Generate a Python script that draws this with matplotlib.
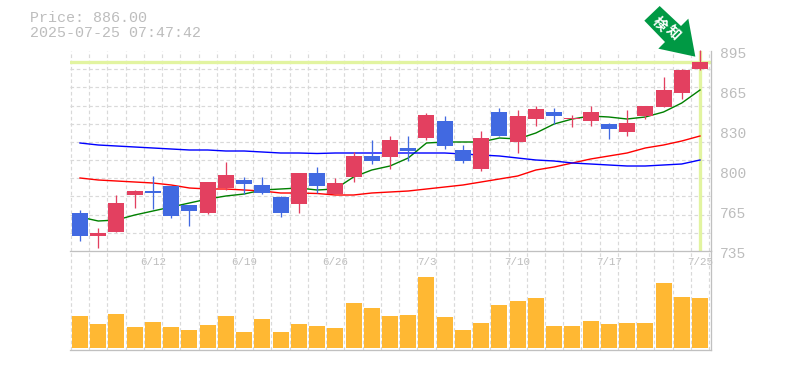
import numpy as np
import matplotlib
matplotlib.use("Agg")
import matplotlib.pyplot as plt
from matplotlib.patches import Polygon
from matplotlib.transforms import ScaledTranslation

W, H = 785, 370

opens = [765.4,747,750.2,779.8,783,787,771.8,765.4,785.4,791.8,787.8,778.2,772.6,797.4,780.6,794.2,811,810.2,817.4,825.4,839,815.8,800.6,846.2,822.2,840.6,846.2,840.6,839,836.6,830.2,843,850.2,861.4,880.6]
highs = [767.8,753.4,779.8,783.8,795,787,771.8,790.2,806.2,794.2,794.2,779,797.4,802.2,793.4,814.2,823.8,827,827,845.4,843,819.8,831,849.4,847.8,851,849.4,843.8,851,837.4,847.8,851,874.2,880.6,895.8]
lows = [743,737.4,750.2,769.4,768.6,761.4,755,764.6,783.8,780.6,780.6,762.2,765.4,781.4,780.6,790.2,804.6,800.6,807,823.8,816.6,805.4,799,827,813.4,835,836.6,834.2,835,824.6,827,840.6,850.2,856.6,879.8]
closes = [747,749.4,773.4,783,781.4,763,767,790.2,795.8,788.6,781.4,765.4,797.4,787,789.4,811,807,823.8,815,843.8,819,807,825.4,827,843,848.6,843,841.4,846.2,832.6,837.4,851,863.8,879.8,886]
ma_short = [762.2,759,759.8,763.8,767,770.2,773.4,776.6,779,780.6,783.8,784.6,785.4,783.8,784.6,794.2,799.8,803,809.4,821.4,822.2,822.2,822.2,825.4,824.6,829.4,836.6,840.6,843,842.2,840.6,842.2,846.2,853.4,863.8]
ma_mid = [793.4,791.8,791,790.2,789.4,787.8,785.4,784.6,784.6,783.8,783,781.4,781.4,781,779.8,779.8,781.4,782.2,783,784.6,786.2,787.8,790.2,792.6,795,799.8,802.2,805.4,808.6,811,813.4,817.4,819.8,823,827]
ma_long = [821.4,819.8,819,818.2,817.4,816.6,815.8,815.8,815,815,814.2,813.4,813.4,813,813.4,813.4,813.4,813.4,813.4,813.4,813.4,812.6,811.8,811,809.4,807.8,807,805.4,804.6,803.8,803,803,803.8,804.6,807.8]
volumes = [3200,2400,3400,2100,2600,2100,1800,2300,3200,1600,2900,1600,2400,2200,2000,4500,4000,3200,3300,7100,3100,1800,2500,4300,4700,5000,2200,2200,2700,2400,2500,2500,6500,5100,5000]
price_ticks = [895,863,831,799,767,735]
price_labels = ["895","865","830","800","765","735"]
date_idx = [4,9,14,19,24,29,34]
date_labels = ["6/12","6/19","6/26","7/3","7/10","7/17","7/25"]
current_price = 886.0
header = ["Price: 886.00", "2025-07-25 07:47:42"]
badge = "検知"

RED, BLUE = "#e34060", "#4169e1"
GRID, GREY, TXT = "#d9d9d9", "#c0c0c0", "#bdbdbd"
LIME = "#e2f4a0"
MONO = "Liberation Mono"
PX = 72 / 100

fig = plt.figure(figsize=(W / 100, H / 100), dpi=100, facecolor="white")
def box(l, t, r, b):
    return [l / W, 1 - b / H, (r - l) / W, (b - t) / H]
ax = fig.add_axes(box(70, 51, 710.5, 251))
vx = fig.add_axes(box(70, 251, 710.5, 350), sharex=ax)
vx.patch.set_alpha(0)

x = np.arange(len(closes))
step = 18.235
xlim = (-10 / step, 630.5 / step)
for a in (ax, vx):
    a.set_xlim(xlim)
    a.set_axisbelow(True)
    a.set_xticks(np.r_[-0.5, x + 0.5], minor=True)
    a.grid(True, which="minor", axis="x", color=GRID, lw=1.2 * PX, dashes=(3, 2.2))
    a.tick_params(which="both", length=0)
    for s in ("left", "top"):
        a.spines[s].set_visible(False)
    for s in ("right", "bottom"):
        a.spines[s].set_color(GREY)
        a.spines[s].set_linewidth(1.3 * PX)

ax.set_ylim(735, 895)
ax.set_yticks(np.linspace(735, 895, 12), minor=True)
ax.grid(True, which="minor", axis="y", color=GRID, lw=1.2 * PX, dashes=(3, 2.2))
for t in ax.yaxis.get_minor_ticks():
    t.gridline.set_clip_on(False)

ax.yaxis.tick_right()
ax.set_yticks(price_ticks)
ax.set_yticklabels(price_labels, family=MONO, fontsize=10.5, color=TXT)
ax.tick_params(axis="y", pad=6.5)
shift = ScaledTranslation(0, -2 / 100, fig.dpi_scale_trans)
for lab in ax.get_yticklabels():
    lab.set_transform(lab.get_transform() + shift)

ax.set_xticks(date_idx)
ax.set_xticklabels(date_labels, family=MONO, fontsize=7.8, color=TXT)
ax.tick_params(axis="x", pad=4.2)
vx.tick_params(axis="x", labelbottom=False)
vx.set_yticks([])

# current price marker (nudged to the reference's pixel row)
nudge = ScaledTranslation(0, 0.75 / 100, fig.dpi_scale_trans)
hl = ax.axhline(current_price, color=LIME, lw=3.3 * PX, zorder=1.5)
hl.set_transform(hl.get_transform() + nudge)
ax.axvline(x[-1], color=LIME, lw=3.3 * PX, zorder=1.5)

# moving averages
ax.plot(x, ma_short, color="#008000", lw=1.4 * PX, zorder=2)
ax.plot(x, ma_mid, color="#ff0000", lw=1.4 * PX, zorder=2)
ax.plot(x, ma_long, color="#0000ff", lw=1.4 * PX, zorder=2)

# candles
colors = [RED if c >= o else BLUE for o, c in zip(opens, closes)]
ax.vlines(x, lows, highs, colors=colors, lw=1.3 * PX, zorder=3, clip_on=False)
bottoms = np.minimum(opens, closes)
heights = np.abs(np.subtract(closes, opens))
ax.bar(x, heights, bottom=bottoms, width=16 / step, color=colors, lw=0, zorder=4)

# volumes
vx.bar(x, volumes, width=16 / step, color="#ffb833", lw=0, zorder=3)
vx.set_ylim(-200, 9700)

# header
fig.text(30 / W, 1 - 18 / H, header[0], family=MONO, fontsize=10.8, color=TXT, va="center", ha="left")
fig.text(30 / W, 1 - 33 / H, header[1], family=MONO, fontsize=10.8, color=TXT, va="center", ha="left")

# alert arrow
ox, oy = 635, 0
arrow = [(74, 18), (28, 62), (90, 126), (70, 146), (181, 170), (160, 56), (138, 78)]
pts = [((ox + u / 3) / W, 1 - (oy + v / 3) / H) for u, v in arrow]
fig.add_artist(Polygon(pts, closed=True, transform=fig.transFigure, facecolor="#009944", edgecolor="none", zorder=6))
for ch, (u, v) in zip(badge, [(74, 72), (112, 100)]):
    fig.text((ox + u / 3) / W, 1 - (oy + v / 3) / H, ch, color="white", rotation=-45,
             family="Noto Sans CJK JP", fontsize=10, fontweight="bold",
             ha="center", va="center", rotation_mode="anchor", zorder=7)

fig.savefig("out.png", dpi=100)
